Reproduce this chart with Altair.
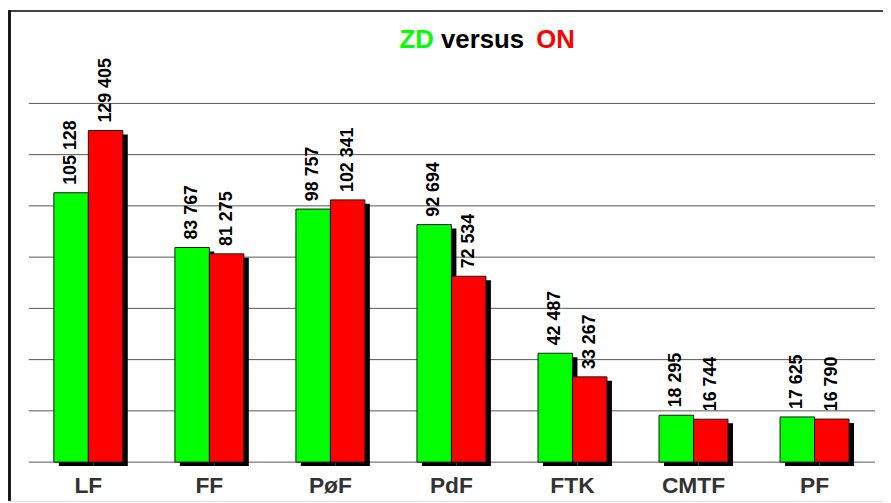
import altair as alt
import pandas as pd

categories = ["LF", "FF", "PøF", "PdF", "FTK", "CMTF", "PF"]
series = ["ZD", "ON"]
zd_values = [105128, 83767, 98757, 92694, 42487, 18295, 17625]
on_values = [129405, 81275, 102341, 72534, 33267, 16744, 16790]
grid_values = [0, 20000, 40000, 60000, 80000, 100000, 120000, 140000]
colors = ["#00FF00", "#FF0000"]

rows = []
for c, z, o in zip(categories, zd_values, on_values):
    rows.append({"cat": c, "series": "ZD", "value": z, "label": f"{z:,}".replace(",", " ")})
    rows.append({"cat": c, "series": "ON", "value": o, "label": f"{o:,}".replace(",", " ")})
df = pd.DataFrame(rows)
grid_df = pd.DataFrame({"g": grid_values})
cat_df = pd.DataFrame({"cat": categories})

FONT = "Liberation Sans"


def xs(shift=0):
    return alt.Scale(domain=categories, range=[20 + shift, 875 + shift],
                     paddingInner=0.43, paddingOuter=0.215)


def ys(shift=0):
    return alt.Scale(domain=[0, 140000], range=[456 + shift, 94 + shift])


def offs():
    return alt.Scale(domain=series)


# frame lines
frame_top = alt.Chart(cat_df).mark_rule(color="#444444", strokeWidth=1.6).encode(
    x=alt.value(1), x2=alt.value(883), y=alt.value(0.8)
)
frame_left = alt.Chart(cat_df).mark_rule(color="#111111", strokeWidth=1.6).encode(
    x=alt.value(1.5), y=alt.value(0), y2=alt.value(495)
)

grid = alt.Chart(grid_df).mark_rule(color="#555555", strokeWidth=1).encode(
    x=alt.value(21), x2=alt.value(875),
    y=alt.Y("g:Q", scale=ys(), axis=None),
)

shadow = alt.Chart(df).mark_bar(color="black").encode(
    x=alt.X("cat:N", scale=xs(5), axis=None),
    xOffset=alt.XOffset("series:N", scale=offs()),
    y=alt.Y("value:Q", scale=ys(4), axis=None),
)

bars = alt.Chart(df).mark_bar(stroke="#1a1a1a", strokeWidth=1).encode(
    x=alt.X("cat:N", scale=xs(), axis=None),
    xOffset=alt.XOffset("series:N", scale=offs()),
    y=alt.Y("value:Q", scale=ys(), axis=None),
    color=alt.Color("series:N", scale=alt.Scale(domain=series, range=colors), legend=None),
)

values = alt.Chart(df).mark_text(
    angle=270, align="left", baseline="middle", dx=8,
    fontSize=18, fontWeight="bold", font=FONT, color="black"
).encode(
    x=alt.X("cat:N", scale=xs(), axis=None),
    xOffset=alt.XOffset("series:N", scale=offs()),
    y=alt.Y("value:Q", scale=ys(), axis=None),
    text="label:N",
)

main = alt.layer(bars, values)

cats = alt.Chart(cat_df).mark_text(
    fontSize=23, fontWeight="bold", font=FONT, color="#333333", baseline="middle"
).encode(
    x=alt.X("cat:N", scale=xs(), axis=None),
    y=alt.value(480),
    text="cat:N",
)

title_zd = alt.Chart(cat_df.head(1)).mark_text(
    text="ZD", fontSize=26, fontWeight="bold", font=FONT, color="#00FF00",
    align="left", baseline="alphabetic"
).encode(x=alt.value(395), y=alt.value(38))
title_vs = alt.Chart(cat_df.head(1)).mark_text(
    text="versus", fontSize=26, fontWeight="bold", font=FONT, color="black",
    align="left", baseline="alphabetic"
).encode(x=alt.value(437), y=alt.value(38))
title_on = alt.Chart(cat_df.head(1)).mark_text(
    text="ON", fontSize=26, fontWeight="bold", font=FONT, color="#FF0000",
    align="left", baseline="alphabetic"
).encode(x=alt.value(533), y=alt.value(38))

chart = alt.layer(
    frame_top, frame_left, grid, shadow, main, cats, title_zd, title_vs, title_on
).resolve_scale(
    x="independent", y="independent", xOffset="independent", color="independent"
).properties(
    width=883, height=495,
    autosize=alt.AutoSizeParams(type="none"),
    padding=0,
).configure_view(stroke=None).configure(background="white")

chart.save("out.html", embed_options={"renderer": "svg", "actions": False})
